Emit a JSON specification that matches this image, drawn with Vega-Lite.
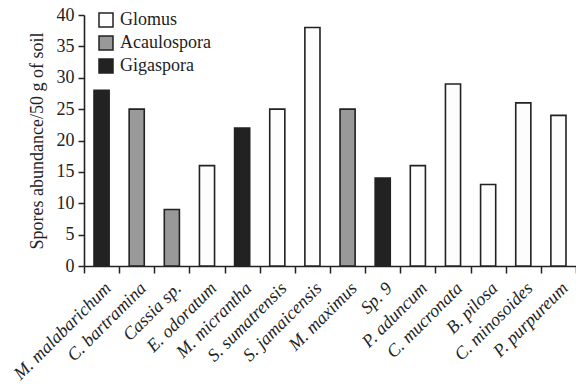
{
  "$schema": "https://vega.github.io/schema/vega-lite/v6.json",
  "autosize": {"type": "none"},
  "padding": {"left": 84, "top": 15, "right": 0, "bottom": 120},
  "width": 492,
  "height": 251,
  "background": "white",
  "config": {
    "view": {"stroke": null},
    "font": "Liberation Serif"
  },
  "data": {
    "values": [
      {"plant": "M. malabarichum", "genus": "Gigaspora", "spores": 28},
      {"plant": "C. bartramina", "genus": "Acaulospora", "spores": 25},
      {"plant": "Cassia sp.", "genus": "Acaulospora", "spores": 9},
      {"plant": "E. odoratum", "genus": "Glomus", "spores": 16},
      {"plant": "M. micrantha", "genus": "Gigaspora", "spores": 22},
      {"plant": "S. sumatrensis", "genus": "Glomus", "spores": 25},
      {"plant": "S. jamaicensis", "genus": "Glomus", "spores": 38},
      {"plant": "M. maximus", "genus": "Acaulospora", "spores": 25},
      {"plant": "Sp. 9", "genus": "Gigaspora", "spores": 14},
      {"plant": "P. aduncum", "genus": "Glomus", "spores": 16},
      {"plant": "C. mucronata", "genus": "Glomus", "spores": 29},
      {"plant": "B. pilosa", "genus": "Glomus", "spores": 13},
      {"plant": "C. minosoides", "genus": "Glomus", "spores": 26},
      {"plant": "P. purpureum", "genus": "Glomus", "spores": 24}
    ]
  },
  "mark": {"type": "bar", "width": {"band": 0.43}, "stroke": "#222", "strokeWidth": 1.6},
  "encoding": {
    "x": {
      "field": "plant",
      "type": "nominal",
      "sort": null,
      "scale": {"paddingInner": 0, "paddingOuter": 0},
      "axis": {
        "title": null,
        "tickBand": "extent",
        "labelAngle": -45,
        "labelFont": "Liberation Serif",
        "labelFontStyle": "italic",
        "labelFontSize": 18,
        "labelColor": "#222",
        "labelPadding": 6,
        "tickSize": 7,
        "tickColor": "#222",
        "tickWidth": 1.5,
        "domainColor": "#222",
        "domainWidth": 1.6,
        "labelOverlap": false
      }
    },
    "y": {
      "field": "spores",
      "type": "quantitative",
      "scale": {"domain": [0, 40], "nice": false},
      "axis": {
        "title": "Spores abundance/50 g of soil",
        "titleFont": "Liberation Serif",
        "titleFontSize": 18,
        "titleFontWeight": "normal",
        "titleColor": "#222",
        "titlePadding": 10,
        "values": [0, 5, 10, 15, 20, 25, 30, 35, 40],
        "grid": false,
        "labelFont": "Liberation Serif",
        "labelFontSize": 18,
        "labelColor": "#222",
        "labelPadding": 4,
        "tickSize": 6,
        "tickColor": "#222",
        "tickWidth": 1.5,
        "domainColor": "#222",
        "domainWidth": 1.6
      }
    },
    "fill": {
      "field": "genus",
      "type": "nominal",
      "scale": {"domain": ["Glomus", "Acaulospora", "Gigaspora"], "range": ["#fdfdfd", "#999999", "#222222"]},
      "legend": {
        "title": null,
        "orient": "none",
        "legendX": 13,
        "legendY": -4,
        "padding": 0,
        "symbolType": "square",
        "symbolSize": 196,
        "symbolStrokeColor": "#222",
        "symbolStrokeWidth": 1.5,
        "symbolOpacity": 1,
        "labelFont": "Liberation Serif",
        "labelFontSize": 18,
        "labelColor": "#222",
        "labelOffset": 5,
        "rowPadding": 3
      }
    }
  }
}
